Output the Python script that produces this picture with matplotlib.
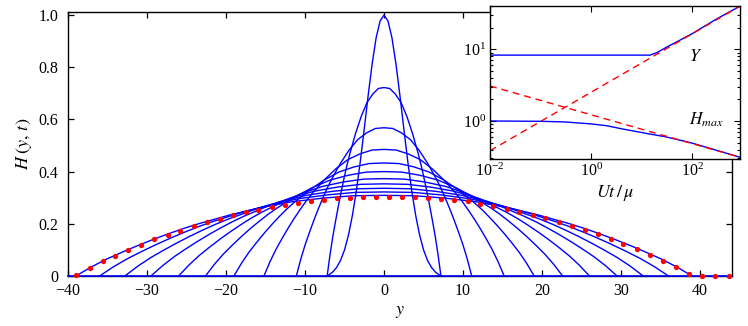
import numpy as np
import matplotlib
matplotlib.use('Agg')
import matplotlib.pyplot as plt
from matplotlib.ticker import FixedLocator, FixedFormatter, LogLocator, NullLocator

plt.rcParams['font.family'] = 'serif'
plt.rcParams['font.serif'] = ['Liberation Serif', 'DejaVu Serif']
plt.rcParams['mathtext.fontset'] = 'stix'
plt.rcParams['font.size'] = 11.5

# ---- main panel data ----
# initial bump, right half (mirrored for the left half)
init_y = [0, 0.5, 1.0, 1.5, 2.0, 2.5, 3.0, 3.5, 4.0, 4.5, 5.0, 5.5, 6.0, 6.5, 7.0, 7.3]
init_H = [1.0, 0.977, 0.913, 0.814, 0.694, 0.565, 0.44, 0.327, 0.233, 0.157,
          0.10, 0.060, 0.033, 0.015, 0.004, 0.0]

# later profiles: half-width and peak height of each one
half_widths = [7.2, 11.1, 15.2, 19.0, 22.6, 26.0, 29.5, 32.8, 36.0, 39.0]
peak_heights = [0.722, 0.568, 0.485, 0.433, 0.400, 0.373, 0.353, 0.336, 0.322, 0.309]

# normalised profile shape (y / half-width, H / peak), read from the late profile
shape_s = [0, 0.1, 0.2, 0.3, 0.4, 0.5, 0.6, 0.65, 0.7, 0.75, 0.8, 0.85, 0.9, 0.95, 1.0]
shape_f = [1.0, 0.995, 0.965, 0.92, 0.848, 0.757, 0.65, 0.59, 0.523, 0.452,
           0.376, 0.295, 0.21, 0.112, 0.0]

# red markers
dots_y = [-39.0, -37.2, -35.6, -34.0, -32.4, -30.7, -29.1, -27.4, -25.8, -24.1,
          -22.4, -20.8, -19.1, -17.5, -15.9, -14.2, -12.5, -10.9, -9.3, -7.6,
          -6.0, -4.3, -2.65, -1.0, 0.65, 2.3, 3.9, 5.6, 7.2, 8.9,
          10.6, 12.2, 13.85, 15.5, 17.1, 18.8, 20.4, 22.1, 23.8, 25.4,
          27.05, 28.7, 30.3, 32.0, 33.6, 35.3, 36.9, 38.6, 40.2, 41.9, 43.6]
dots_H = [0.004, 0.032, 0.056, 0.078, 0.099, 0.12, 0.14, 0.158, 0.174, 0.19,
          0.205, 0.219, 0.232, 0.244, 0.254, 0.264, 0.273, 0.281, 0.289, 0.293,
          0.298, 0.300, 0.303, 0.303, 0.303, 0.303, 0.302, 0.298, 0.294, 0.291,
          0.286, 0.276, 0.267, 0.257, 0.246, 0.235, 0.222, 0.207, 0.193, 0.177,
          0.161, 0.143, 0.123, 0.102, 0.080, 0.059, 0.034, 0.009, 0, 0, 0]

# ---- inset data ----
t_Y = [1e-2, 14.5, 20, 30, 50, 100, 300, 871]
Y_sim = [8.3, 8.3, 9.0, 10.6, 12.8, 16.6, 26.5, 40.0]
t_H = [1e-2, 0.1, 0.3, 1, 2, 4.3, 12.5, 30, 60, 100, 300, 871]
H_sim = [1.0, 0.99, 0.97, 0.91, 0.86, 0.77, 0.67, 0.60, 0.535, 0.49, 0.39, 0.312]
t_asym = [1e-2, 871]
Y_asym = [0.385, 40.0]
H_asym = [3.08, 0.312]

blue = '#0000ff'
red = '#ff0000'

fig = plt.figure(figsize=(7.48, 3.26), dpi=100)
ax = fig.add_axes([0.0909, 0.1534, 0.8873, 0.8098])


def mirrored(yr, hr):
    yr = np.asarray(yr, float)
    hr = np.asarray(hr, float)
    return np.concatenate([-yr[::-1], yr[1:]]), np.concatenate([hr[::-1], hr[1:]])


yy, hh = mirrored(init_y, init_H)
ax.plot(yy, hh, color=blue, lw=1.0, zorder=3)
s = np.asarray(shape_s)
f = np.asarray(shape_f)
for Y, Hm in zip(half_widths, peak_heights):
    yy, hh = mirrored(s * Y, f * Hm)
    ax.plot(yy, hh, color=blue, lw=1.0, zorder=3)
ax.plot([-40, 44], [0, 0], color=blue, lw=1.2, zorder=4, clip_on=False)
ax.plot(dots_y, dots_H, 'o', color=red, ms=3.8, mec='none', zorder=5, clip_on=False)

ax.set_xlim(-40, 44)
ax.set_ylim(0, 1.0115)
ax.xaxis.set_major_locator(FixedLocator([-40, -30, -20, -10, 0, 10, 20, 30, 40]))
ax.yaxis.set_major_locator(FixedLocator([0, 0.2, 0.4, 0.6, 0.8, 1.0]))
ax.yaxis.set_major_formatter(FixedFormatter(['0', '0.2', '0.4', '0.6', '0.8', '1.0']))
ax.tick_params(direction='in', top=True, right=True, length=4, width=0.9)
ax.tick_params(axis='x', pad=5)
ax.tick_params(axis='y', pad=7)
for lab in ax.get_yticklabels():
    lab.set_verticalalignment('center_baseline')
for sp in ax.spines.values():
    sp.set_linewidth(1.0)
ax.set_xlabel(r'$y$', fontsize=13, labelpad=3)
ax.set_ylabel(r'$H\;(y,\,t)$', fontsize=13, labelpad=3)

# ---- inset ----
ins = fig.add_axes([0.6551, 0.5123, 0.3342, 0.4693])
ins.set_facecolor('white')
ins.set_zorder(10)
ins.plot(t_Y, Y_sim, color=blue, lw=1.0)
ins.plot(t_H, H_sim, color=blue, lw=1.0)
ins.plot(t_asym, Y_asym, color=red, lw=1.0, dashes=(5, 3.5))
ins.plot(t_asym, H_asym, color=red, lw=1.0, dashes=(5, 3.5))
ins.set_xscale('log')
ins.set_yscale('log')
ins.set_xlim(1e-2, 871)
ins.set_ylim(0.295, 40.2)
ins.xaxis.set_major_locator(FixedLocator([1e-2, 1, 1e2]))
ins.xaxis.set_minor_locator(NullLocator())
ins.yaxis.set_major_locator(FixedLocator([1, 10]))
ins.yaxis.set_minor_locator(LogLocator(base=10, subs=np.arange(2, 10)))
ins.tick_params(which='both', direction='in', top=True, right=True, width=0.8)
ins.tick_params(which='major', length=4, pad=3)
ins.tick_params(which='minor', length=2)
for sp in ins.spines.values():
    sp.set_linewidth(1.0)
ins.set_xlabel(r'$U t\,/\,\mu$', fontsize=13, labelpad=2)
ins.text(115, 7.9, r'$Y$', ha='center', va='center', fontsize=12.5)
ins.text(186, 1.03, r'$H_{max}$', ha='center', va='center', fontsize=12.5)

fig.savefig('out.png', dpi=100)
